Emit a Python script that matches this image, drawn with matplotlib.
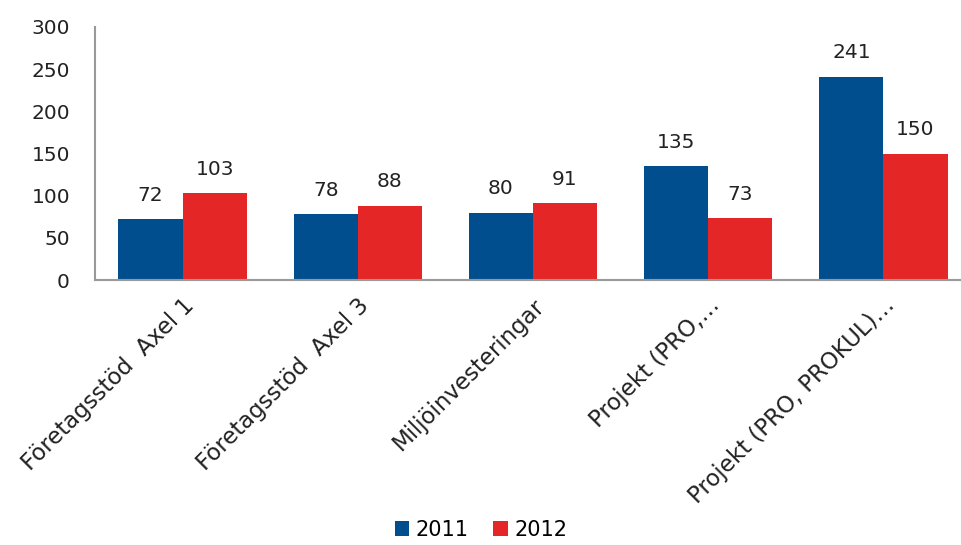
import numpy as np
import matplotlib.pyplot as plt

categories = ['Företagsstöd  Axel 1', 'Företagsstöd  Axel 3', 'Miljöinvesteringar',
              'Projekt (PRO,…', 'Projekt (PRO, PROKUL)…']
v2011 = [72, 78, 80, 135, 241]
v2012 = [103, 88, 91, 73, 150]
yticks = [0, 50, 100, 150, 200, 250, 300]

plt.rcParams['font.family'] = ['DejaVu Sans']

fig = plt.figure(figsize=(9.62, 5.45), dpi=100)
ax = fig.add_axes([95 / 962, 1 - 280 / 545, 876 / 962, 253 / 545])

x = np.arange(len(categories))
w = 0.366
b1 = ax.bar(x - w / 2, v2011, w, color='#004E8E', label='2011')
b2 = ax.bar(x + w / 2, v2012, w, color='#E42726', label='2012')

for bars in (b1, b2):
    for r in bars:
        ax.text(r.get_x() + r.get_width() / 2, r.get_height() + 17, str(int(r.get_height())),
                ha='center', va='bottom', fontsize=14.5, color='#222222')

ax.set_xlim(-0.5, len(categories) - 0.5)
ax.set_ylim(0, 300)
ax.set_yticks(yticks)
ax.set_xticks(x)
ax.set_xticklabels(categories, rotation=45, ha='right', va='top', rotation_mode='anchor',
                   fontsize=16.5, color='#222222')
ax.tick_params(axis='y', length=0, labelsize=14.5, colors='#222222', pad=18)
ax.tick_params(axis='x', length=0, colors='#222222', pad=10)
for s in ['top', 'right']:
    ax.spines[s].set_visible(False)
for s in ['left', 'bottom']:
    ax.spines[s].set_color('#999999')
    ax.spines[s].set_linewidth(1.5)

fig.legend(handles=[b1, b2], loc='center', bbox_to_anchor=(0.5, 1 - 530 / 545), ncol=2,
           frameon=False, fontsize=15, handlelength=0.7, handleheight=0.7,
           handletextpad=0.3, columnspacing=1.2)

fig.savefig('out.png', dpi=100)
